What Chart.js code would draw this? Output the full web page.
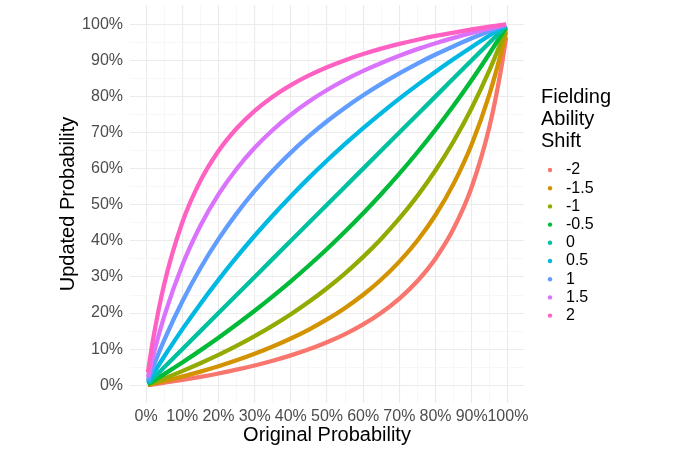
<!DOCTYPE html>
<html>
<head>
<meta charset="utf-8">
<script src="https://cdn.jsdelivr.net/npm/chart.js@4.4.1/dist/chart.umd.min.js"></script>
<style>
html,body{margin:0;padding:0;background:#fff;}
#wrap{width:680px;height:453px;}
</style>
</head>
<body>
<div id="wrap"><canvas id="c" width="680" height="453"></canvas></div>
<script>
// ---- data ----
const origProb = [0.005,0.02,0.05,0.1,0.15,0.2,0.25,0.3,0.35,0.4,0.45,0.5,0.55,0.6,0.65,0.7,0.75,0.8,0.85,0.9,0.95,0.98,0.995];
const shiftLabels = ['-2','-1.5','-1','-0.5','0','0.5','1','1.5','2'];
const shiftM2  = [0.0007,0.0028,0.0071,0.0148,0.0233,0.0327,0.0432,0.0548,0.0679,0.0828,0.0997,0.1192,0.1419,0.1687,0.2008,0.2400,0.2888,0.3512,0.4340,0.5491,0.7200,0.8690,0.9642];
const shiftM15 = [0.0011,0.0045,0.0116,0.0242,0.0379,0.0528,0.0692,0.0873,0.1073,0.1295,0.1544,0.1824,0.2143,0.2508,0.2930,0.3424,0.4010,0.4716,0.5584,0.6676,0.8091,0.9162,0.9780];
const shiftM1  = [0.0018,0.0075,0.0190,0.0393,0.0610,0.0842,0.1092,0.1362,0.1653,0.1969,0.2314,0.2689,0.3102,0.3556,0.4059,0.4619,0.5246,0.5954,0.6758,0.7680,0.8748,0.9474,0.9865];
const shiftM05 = [0.0030,0.0122,0.0309,0.0631,0.0967,0.1317,0.1682,0.2063,0.2462,0.2879,0.3317,0.3775,0.4257,0.4764,0.5298,0.5860,0.6453,0.7081,0.7746,0.8452,0.9202,0.9674,0.9918];
const shift0   = [0.005,0.02,0.05,0.1,0.15,0.2,0.25,0.3,0.35,0.4,0.45,0.5,0.55,0.6,0.65,0.7,0.75,0.8,0.85,0.9,0.95,0.98,0.995];
const shiftP05 = [0.0082,0.0326,0.0798,0.1548,0.2254,0.2919,0.3547,0.4140,0.4702,0.5236,0.5743,0.6225,0.6683,0.7121,0.7538,0.7937,0.8318,0.8683,0.9033,0.9369,0.9691,0.9878,0.9970];
const shiftP1  = [0.0135,0.0526,0.1252,0.2320,0.3242,0.4046,0.4754,0.5381,0.5941,0.6444,0.6898,0.7311,0.7686,0.8031,0.8347,0.8638,0.8908,0.9158,0.9390,0.9607,0.9810,0.9925,0.9982];
const shiftP15 = [0.0220,0.0838,0.1909,0.3324,0.4416,0.5284,0.5990,0.6576,0.7070,0.7492,0.7857,0.8176,0.8456,0.8705,0.8927,0.9127,0.9308,0.9472,0.9621,0.9758,0.9884,0.9955,0.9989];
const shiftP2  = [0.0358,0.1310,0.2800,0.4509,0.5660,0.6488,0.7112,0.7600,0.7992,0.8313,0.8581,0.8808,0.9003,0.9172,0.9321,0.9452,0.9568,0.9673,0.9767,0.9852,0.9929,0.9972,0.9993];
const seriesValues = [shiftM2,shiftM15,shiftM1,shiftM05,shift0,shiftP05,shiftP1,shiftP15,shiftP2];
const majorBreaks = [0,0.1,0.2,0.3,0.4,0.5,0.6,0.7,0.8,0.9,1];
const minorBreaks = [0.05,0.15,0.25,0.35,0.45,0.55,0.65,0.75,0.85,0.95];
const tickLabels = ['0%','10%','20%','30%','40%','50%','60%','70%','80%','90%','100%'];
// --------------------------------------

const colors = ['#F8766D','#D39200','#93AA00','#00BA38','#00C19F','#00B9E3','#619CFF','#DB72FB','#FF61C3'];
const FONT = '"Liberation Sans", Arial, Helvetica, sans-serif';
Chart.defaults.font.family = FONT;

const allBreaks = majorBreaks.concat(minorBreaks).sort((a,b)=>a-b);
function isMajor(v){ return majorBreaks.some(m => Math.abs(m - v) < 1e-9); }
function labelFor(v){
  const i = majorBreaks.findIndex(m => Math.abs(m - v) < 1e-9);
  return i >= 0 ? tickLabels[i] : '';
}

const datasets = seriesValues.map((vals, i) => ({
  label: shiftLabels[i],
  data: origProb.map((x, j) => ({x: x, y: vals[j]})),
  borderColor: colors[i],
  backgroundColor: colors[i],
  borderWidth: 4.3,
  pointRadius: 0,
  pointHoverRadius: 0,
  cubicInterpolationMode: 'monotone',
  fill: false,
  order: seriesValues.length - 1 - i
}));

const gridOpts = {
  color: ctx => (ctx.tick && isMajor(ctx.tick.value)) ? '#EBEBEB' : '#F4F4F4',
  lineWidth: ctx => (ctx.tick && isMajor(ctx.tick.value)) ? 1.1 : 0.7,
  drawTicks: false
};

const legendPlugin = {
  id: 'ggLegend',
  afterDraw(chart) {
    const ctx = chart.ctx;
    ctx.save();
    ctx.fillStyle = '#000';
    ctx.textAlign = 'left';
    ctx.textBaseline = 'middle';
    ctx.font = '20px ' + FONT;
    const titleLines = ['Fielding','Ability','Shift'];
    titleLines.forEach((t, i) => ctx.fillText(t, 541, 97 + i * 22));
    ctx.font = '16px ' + FONT;
    chart.data.datasets.forEach((ds, i) => {
      const y = 170 + i * 18.2;
      ctx.beginPath();
      ctx.arc(550, y, 2.2, 0, Math.PI * 2);
      ctx.fillStyle = ds.borderColor;
      ctx.fill();
      ctx.fillStyle = '#000';
      ctx.fillText(ds.label, 566, y);
    });
    ctx.restore();
  }
};

new Chart(document.getElementById('c'), {
  type: 'line',
  data: { datasets },
  plugins: [legendPlugin],
  options: {
    responsive: false,
    animation: false,
    devicePixelRatio: 1,
    layout: { padding: { left: 0, right: 156, top: 5, bottom: 0 } },
    plugins: { legend: { display: false }, tooltip: { enabled: false } },
    scales: {
      x: {
        type: 'linear',
        min: -0.0445,
        max: 1.0445,
        afterBuildTicks: s => { s.ticks = allBreaks.map(v => ({value: v})); },
        afterFit: s => { s.height = 50; s.paddingLeft = 0; s.paddingRight = 0; },
        grid: gridOpts,
        border: { display: false },
        ticks: {
          autoSkip: false,
          maxRotation: 0,
          padding: 4,
          color: '#4D4D4D',
          font: { size: 16 },
          callback: v => labelFor(v)
        },
        title: {
          display: true,
          text: 'Original Probability',
          color: '#000',
          font: { size: 20 },
          padding: { top: 0, bottom: 6 }
        }
      },
      y: {
        type: 'linear',
        min: -0.049,
        max: 1.053,
        afterBuildTicks: s => { s.ticks = allBreaks.map(v => ({value: v})); },
        afterFit: s => { s.width = 130; s.paddingTop = 0; s.paddingBottom = 0; },
        grid: gridOpts,
        border: { display: false },
        ticks: {
          autoSkip: false,
          padding: 7,
          color: '#4D4D4D',
          font: { size: 16 },
          callback: v => labelFor(v)
        },
        title: {
          display: true,
          text: 'Updated Probability',
          color: '#000',
          font: { size: 20 },
          padding: { top: 56, bottom: 0 }
        }
      }
    }
  }
});
</script>
</body>
</html>
